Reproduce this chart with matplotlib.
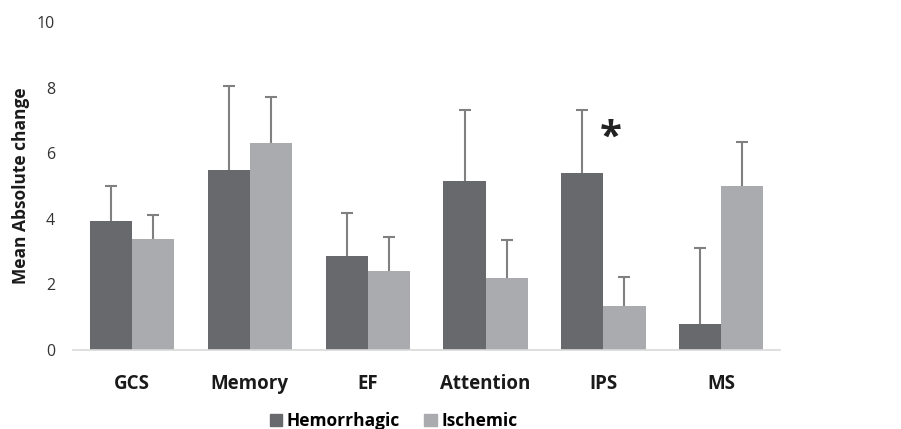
import numpy as np
import matplotlib.pyplot as plt
from matplotlib.patches import Patch

categories = ['GCS', 'Memory', 'EF', 'Attention', 'IPS', 'MS']
hemorrhagic = [3.94, 5.50, 2.87, 5.16, 5.39, 0.79]
hemorrhagic_err = [1.07, 2.55, 1.30, 2.16, 1.93, 2.33]
ischemic = [3.38, 6.31, 2.41, 2.19, 1.34, 5.01]
ischemic_err = [0.74, 1.40, 1.04, 1.16, 0.88, 1.32]
yticks = [0, 2, 4, 6, 8, 10]

c_hem = '#68696c'
c_isc = '#a9abae'
c_err = '#808080'

plt.rcParams['font.family'] = ['Open Sans', 'DejaVu Sans']

fig = plt.figure(figsize=(9.01, 4.29), dpi=100)
ax = fig.add_axes([0.081, 0.184, 0.785, 0.765])

x = np.arange(len(categories))
w = 0.357
for xs, vals, errs, col in [(x - w / 2, hemorrhagic, hemorrhagic_err, c_hem),
                            (x + w / 2, ischemic, ischemic_err, c_isc)]:
    ax.bar(xs, vals, w, color=col, zorder=2)
    # upper error bars only
    _, caps, _ = ax.errorbar(xs, vals, yerr=[np.zeros(len(vals)), errs], fmt='none',
                             ecolor=c_err, elinewidth=1.5, capsize=4, capthick=1.5, zorder=1)
    caps[0].set_visible(False)

# significance marker
ax.text(4.06, 6.45, '*', ha='center', va='center', fontsize=29,
        fontweight='bold', color='#222222')

ax.set_xlim(-0.5, 5.5)
ax.set_ylim(0, 10)
ax.set_yticks(yticks)
ax.set_xticks(x)
ax.set_xticklabels(categories, fontsize=13.5, fontweight='bold', color='#1a1a1a')
ax.tick_params(axis='y', length=0, pad=13, labelsize=11.5, labelcolor='#333333')
ax.tick_params(axis='x', length=0, pad=17)
for s in ['top', 'right', 'left']:
    ax.spines[s].set_visible(False)
ax.spines['bottom'].set_color('#d9d9d9')
ax.spines['bottom'].set_linewidth(1.2)
ax.spines['bottom'].set_zorder(3)
ax.set_ylabel('Mean Absolute change', fontsize=12.5, fontweight='bold', color='#1a1a1a', labelpad=5)

handles = [Patch(color=c_hem, label='Hemorrhagic'), Patch(color=c_isc, label='Ischemic')]
fig.legend(handles=handles, loc='center', bbox_to_anchor=(0.437, 0.019), ncol=2, frameon=False,
           prop=dict(weight='bold', size=12.5), handlelength=0.7, handleheight=0.7,
           handletextpad=0.3, columnspacing=1.4)

fig.savefig('out.png', dpi=100)
